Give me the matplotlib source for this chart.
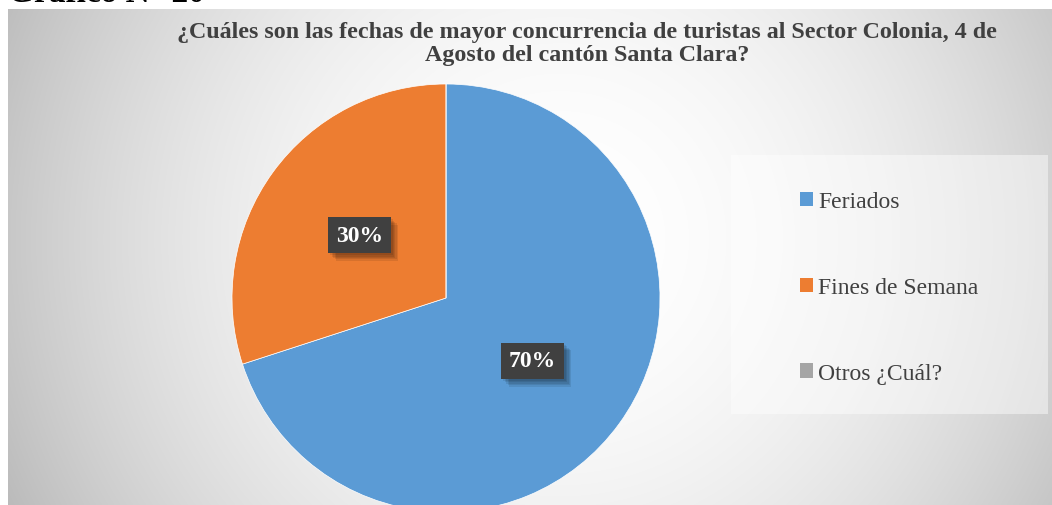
import numpy as np
import matplotlib
matplotlib.use("Agg")
import matplotlib.pyplot as plt
from matplotlib.patches import Rectangle, Patch
from matplotlib import patheffects as pe

# Survey answers (percent of respondents)
categories = ["Feriados", "Fines de Semana", "Otros ¿Cuál?"]
values = [70, 30, 0]
colors = ["#5B9BD5", "#ED7D31", "#A5A5A5"]
title = ("¿Cuáles son las fechas de mayor concurrencia de turistas al Sector Colonia, 4 de\n"
         "Agosto del cantón Santa Clara?")
caption = "Gráfico N° 20"

W, H = 1052, 506
SERIF = ["Liberation Serif", "DejaVu Serif"]

fig = plt.figure(figsize=(W / 100, H / 100), dpi=100)
fig.patch.set_facecolor("white")

# Chart-area background: radial gradient, white in the middle, grey at the rim
bgax = fig.add_axes([0, 0, 1, 1], zorder=0)
bgax.axis("off")
yy, xx = np.mgrid[0:H, 0:W]
cx, cy = 560, 240
d = np.hypot(xx - cx, yy - cy) / 580.0
g = 1.0 - 0.24 * np.clip(d, 0, 1.2) ** 2
g[(xx < 8) | (yy < 10)] = 1.0
bgax.imshow(np.dstack([g, g, g]), extent=(0, W, H, 0), aspect="auto",
            interpolation="bilinear")
bgax.set_xlim(0, W)
bgax.set_ylim(H, 0)

# Axes in pixel units (y up)
ax = fig.add_axes([0, 0, 1, 1], zorder=1)
ax.patch.set_alpha(0)

def fmt(p):
    return f"{p:.0f}%" if p > 0.5 else ""

wedges, texts, autotexts = ax.pie(
    values, colors=colors, startangle=90, counterclock=False,
    center=(446, H - 299), radius=214, autopct=fmt, pctdistance=0.5,
    wedgeprops=dict(edgecolor="white", linewidth=0.5),
    frame=True,
)
ax.set_xlim(0, W)
ax.set_ylim(0, H)
ax.set_aspect("equal")
ax.axis("off")

# Soft drop shadow under the value boxes
shadow = [pe.SimplePatchShadow(offset=(o, -o), shadow_rgbFace="black", alpha=0.09)
          for o in (1.5, 2.5, 3.5, 4.5, 5.5)]
for t in autotexts:
    t.set_family(SERIF)
    t.set_fontsize(17)
    t.set_fontweight("bold")
    t.set_color("white")
    t.set_bbox(dict(boxstyle="square,pad=0.32", fc="#404040", ec="none"))
    t.get_bbox_patch().set_path_effects(shadow + [pe.Normal()])

# Legend panel
ax.add_patch(Rectangle((731, H - 415), 1048 - 731, 415 - 156,
                       facecolor="white", alpha=0.45, edgecolor="none", zorder=1))
handles = [Patch(facecolor=c, edgecolor="none") for c in colors]
leg = ax.legend(handles, categories, loc="center left",
                bbox_to_anchor=(800 / W, (H - 288.5) / H), bbox_transform=fig.transFigure,
                frameon=False, prop=dict(family=SERIF, size=17),
                labelcolor="#404040", handlelength=0.55, handleheight=0.55,
                handletextpad=0.22, labelspacing=2.75, borderpad=0,
                borderaxespad=0)

# Title
fig.text(587 / W, 1 - 44 / H, title, ha="center", va="center",
         family=SERIF, fontsize=17.3, fontweight="bold", color="#404040",
         linespacing=1.15, zorder=3)

# Caption above the chart, mostly hidden by the top edge
fig.text(8 / W, 1 - 2.5 / H, caption, ha="left", va="baseline",
         family=SERIF, fontsize=24, fontweight="bold", color="black", zorder=3)

fig.savefig("out.png", dpi=100)
